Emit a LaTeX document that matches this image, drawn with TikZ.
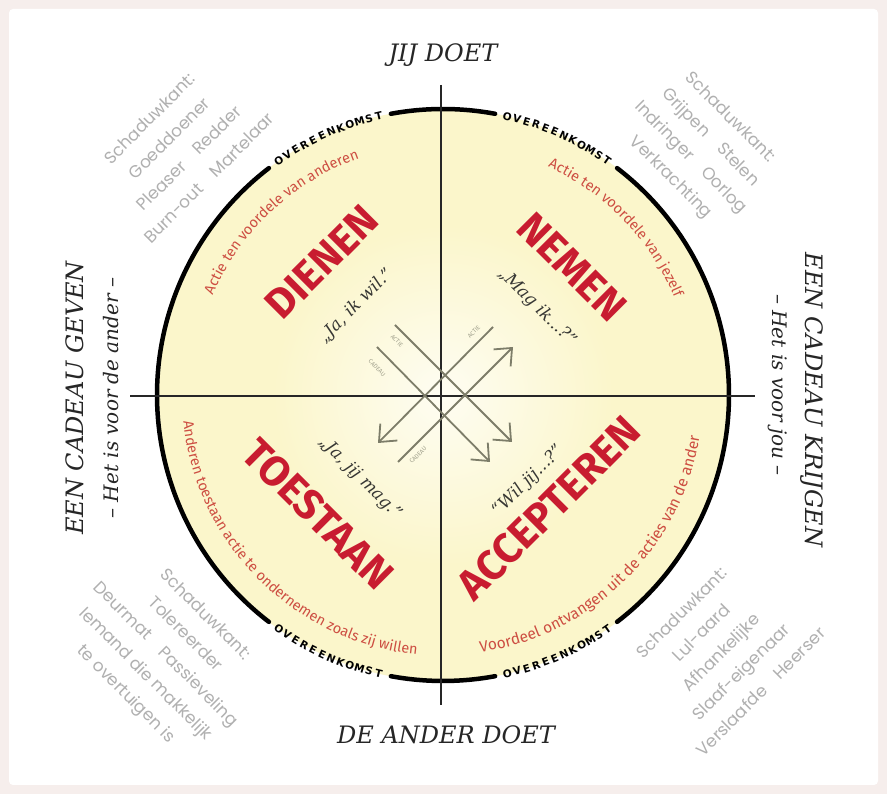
\documentclass[tikz,border=0pt]{standalone}
\usepackage{fontspec}
\setmainfont{DejaVu Serif}
\newfontfamily\sansf{Fira Sans}
\newfontfamily\ovfont{DejaVu Sans}
\newfontfamily\shadowf{Poppins}
\usetikzlibrary{decorations.text,arrows.meta}
\definecolor{bgpink}{RGB}{246,238,236}
\definecolor{circfill}{RGB}{251,246,203}
\definecolor{bigred}{RGB}{200,28,48}
\definecolor{softred}{RGB}{205,78,66}
\definecolor{shadowgray}{RGB}{176,176,176}
\definecolor{quotegray}{RGB}{55,55,52}
\definecolor{arrowgray}{RGB}{125,125,105}
\definecolor{labelgray}{RGB}{160,160,140}
\newcommand\ovlabel[4]{% #1 name, #2 start angle, #3 step, #4 rotation offset
  \foreach \ch [count=\i from 0] in {O,V,E,R,E,E,N,K,O,M,S,T} {
    \node[ovl, rotate={#2+#3*\i+#4}] (#1-\i) at ([shift={({#2+#3*\i}:286)}]O) {\ch};
  }}
\begin{document}
\begin{tikzpicture}[x=1pt,y=1pt,
  bigword/.style={text=bigred, font=\sansf\bfseries\fontsize{42}{42}\selectfont, inner sep=0},
  quote/.style={text=quotegray, font=\itshape\fontsize{17}{17}\selectfont, inner sep=0},
  shadowtxt/.style={text=shadowgray, font=\shadowf\fontsize{17}{28}\selectfont, align=center, inner sep=0},
  axislbl/.style={text=black!85, font=\itshape\fontsize{24}{24}\selectfont, inner sep=0},
  sublbl/.style={text=black!85, font=\itshape\fontsize{20}{20}\selectfont, inner sep=0},
  ovl/.style={font=\ovfont\bfseries\fontsize{10.5}{10.5}\selectfont, inner sep=0, text=black},
  rim/.style={line width=4.5pt, line cap=round},
  axisline/.style={line width=1.3pt, black!85},
  flow/.style={line width=1.8pt, arrowgray, -{Straight Barb[length=14pt, width=24pt, line width=1.8pt]}},
  arrlbl/.style={text=labelgray, font=\sansf\fontsize{6}{6}\selectfont, inner sep=0},
  arctext/.style={decorate, decoration={text along path, text align=center, text color=softred}},
]
\useasboundingbox (0,0) rectangle (887,794);
\fill[bgpink] (0,0) rectangle (887,794);
\fill[white, rounded corners=4pt] (9,9) rectangle (878,785);

\coordinate (O) at (443,399);
% disc
\fill[circfill] (O) circle (286);
\shade[inner color=white!75!circfill, outer color=circfill] (O) circle (170);

% rim arcs
\draw[rim] ([shift={(79.5:286)}]O) arc[start angle=79.5, end angle=100.5, radius=286];
\draw[rim] ([shift={(127.5:286)}]O) arc[start angle=127.5, end angle=232.5, radius=286];
\draw[rim] ([shift={(259.5:286)}]O) arc[start angle=259.5, end angle=280.5, radius=286];
\draw[rim] ([shift={(307.5:286)}]O) arc[start angle=307.5, end angle=412.5, radius=286];

% OVEREENKOMST labels
\ovlabel{ovtl}{125}{-2}{-90}
\ovlabel{ovtr}{77}{-2}{-90}
\ovlabel{ovbl}{235}{2}{90}
\ovlabel{ovbr}{283}{2}{90}

% axes
\coordinate (vtop) at (441,709);
\coordinate (vbot) at (441,89);
\coordinate (hleft) at (130,398);
\coordinate (hright) at (755,398);
\draw[axisline] (vtop) -- (vbot);
\draw[axisline] (hleft) -- (hright);

% red arc texts
\path[arctext, decoration={text={|\sansf\fontsize{14.5}{14.5}\selectfont|Actie ten voordele van anderen}}]
  ([shift={(160:251)}]O) arc[start angle=160, end angle=106, radius=251];
\path[arctext, decoration={text={|\sansf\fontsize{14.5}{14.5}\selectfont|Actie ten voordele van jezelf}}]
  ([shift={(72:251)}]O) arc[start angle=72, end angle=16, radius=251];
\path[arctext, decoration={text={|\sansf\fontsize{14.5}{14.5}\selectfont|Anderen toestaan actie te ondernemen zoals zij willen}}]
  ([shift={(180:261)}]O) arc[start angle=180, end angle=270, radius=261];
\path[arctext, decoration={text={|\sansf\fontsize{15.5}{15.5}\selectfont|Voordeel ontvangen uit de acties van de ander}}]
  ([shift={(270:260)}]O) arc[start angle=270, end angle=359, radius=260];

% big words
\node[bigword, rotate=45] (dienen) at (322,532) {DIENEN};
\node[bigword, rotate=-45] (nemen) at (572,527) {NEMEN};
\node[bigword, rotate=-45] (toestaan) at (318,280) {TOESTAAN};
\node[bigword, rotate=45] (accepteren) at (549,286) {ACCEPTEREN};

% quotes
\node[quote, rotate=45] (q1) at (356,488) {„Ja, ik wil.”};
\node[quote, rotate=-45] (q2) at (537,487) {„Mag ik...?”};
\node[quote, rotate=-45] (q3) at (360,316) {„Ja, jij mag.”};
\node[quote, rotate=45] (q4) at (528,313) {“Wil jij...?”};

% centre arrows
\coordinate (a1s) at (395,469); \coordinate (a1e) at (512,352);
\coordinate (a2s) at (377,447); \coordinate (a2e) at (490,332);
\coordinate (a3s) at (493,467); \coordinate (a3e) at (378,351);
\coordinate (a4s) at (398,332); \coordinate (a4e) at (513,447);
\draw[flow] (a1s) -- (a1e);
\draw[flow] (a2s) -- (a2e);
\draw[flow] (a3s) -- (a3e);
\draw[flow] (a4s) -- (a4e);
\node[arrlbl, rotate=-45] (l1) at (397,453) {ACTIE};
\node[arrlbl, rotate=-45] (l2) at (377,426) {CADEAU};
\node[arrlbl, rotate=45] (l3) at (474,462) {ACTIE};
\node[arrlbl, rotate=45] (l4) at (418,339) {CADEAU};

% shadow sides
\node[shadowtxt, rotate=45] (shTL) at (179,646) {Schaduwkant:\\Goeddoener\\Pleaser\quad Redder\\Burn-out\quad Martelaar};
\node[shadowtxt, rotate=-45] (shTR) at (700,646) {Schaduwkant:\\Grijpen\quad Stelen\\Indringer\quad Oorlog\\Verkrachting};
\node[shadowtxt, rotate=-45] (shBL) at (165,139) {Schaduwkant:\\Tolereerder\\Deurmat\quad Passieveling\\Iemand die makkelijk\\te overtuigen is};
\node[shadowtxt, rotate=45] (shBR) at (721,142) {Schaduwkant:\\Lul-aard\\Afhankelijke\\Slaaf-eigenaar\\Verslaafde\quad Heerser};

% outer labels
\node[axislbl] (jij) at (443,739) {JIJ DOET};
\node[axislbl] (ander) at (446,59) {DE ANDER DOET};
\node[axislbl, rotate=90] (geven) at (75,396) {EEN CADEAU GEVEN};
\node[sublbl, rotate=90] (geven2) at (111,396) {– Het is voor de ander –};
\node[axislbl, rotate=-90] (krijgen) at (812,394) {EEN CADEAU KRIJGEN};
\node[sublbl, rotate=-90] (krijgen2) at (778,409) {– Het is voor jou –};
\end{tikzpicture}
\end{document}
